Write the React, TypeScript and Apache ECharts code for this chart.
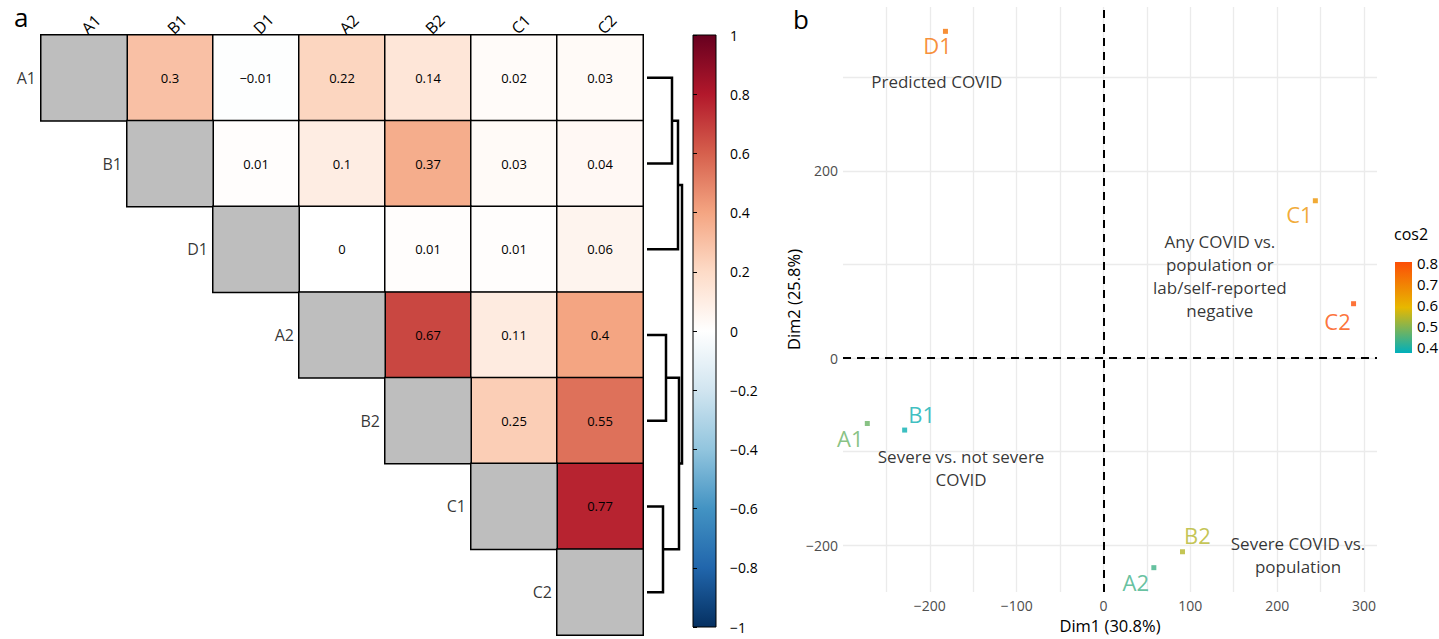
import React, { useEffect, useRef } from 'react';
import * as echarts from 'echarts';

// ---------- Panel a: correlation matrix ----------
const LABELS = ['A1', 'B1', 'D1', 'A2', 'B2', 'C1', 'C2'];
// values to the right of the diagonal, one array per row
const ROW_A1 = [0.3, -0.01, 0.22, 0.14, 0.02, 0.03];
const ROW_B1 = [0.01, 0.1, 0.37, 0.03, 0.04];
const ROW_D1 = [0, 0.01, 0.01, 0.06];
const ROW_A2 = [0.67, 0.11, 0.4];
const ROW_B2 = [0.25, 0.55];
const ROW_C1 = [0.77];
const UPPER_ROWS = [ROW_A1, ROW_B1, ROW_D1, ROW_A2, ROW_B2, ROW_C1];

// dendrogram merges (children: leaf index or merge id), heights in arbitrary units
const DENDRO_MERGES: { left: number | string; right: number | string; height: number }[] = [
  { left: 0, right: 1, height: 25 },
  { left: 'm0', right: 2, height: 31 },
  { left: 3, right: 4, height: 19 },
  { left: 5, right: 6, height: 16 },
  { left: 'm2', right: 'm3', height: 32 },
  { left: 'm1', right: 'm4', height: 35 },
];

const RDBU = ['#053061', '#2166AC', '#4393C3', '#92C5DE', '#D1E5F0', '#FFFFFF', '#FDDBC7', '#F4A582', '#D6604D', '#B2182B', '#67001F'];

// ---------- Panel b: PCA ----------
const PCA_NAMES = ['A1', 'B1', 'D1', 'A2', 'B2', 'C1', 'C2'];
const DIM1 = [-272, -229, -182, 58, 91, 244, 288];
const DIM2 = [-70, -77, 349, -224, -207, 168, 58];
const COS2 = [0.47, 0.38, 0.73, 0.43, 0.54, 0.66, 0.8];
const LABEL_OFFSETS = [[-17, 14], [17, -16], [-8, 14], [-18, 14], [15, -17], [-16, 13], [-16, 17]];

const NOTE_TEXTS = [
  'Predicted COVID',
  'Severe vs. not severe\nCOVID',
  'Any COVID vs.\npopulation or\nlab/self-reported\nnegative',
  'Severe COVID vs.\npopulation',
];
const NOTE_X = [-192, -164, 134, 224];
const NOTE_Y = [295, -117, 88, -210];

const COS2_COLORS = ['#00AFBB', '#E7B800', '#FC4E07'];

const FONT = 'Open Sans';
const minus = (s: string) => s.replace('-', '\u2212');

function buildOption() {
  const corrData: number[][] = [];
  UPPER_ROWS.forEach((row, r) => row.forEach((v, k) => corrData.push([r + 1 + k, r, v])));
  const diagData = LABELS.map((_, i) => [i, i, 1]);

  // dendrogram polylines
  const nodes: Record<string, { y: number; h: number }> = {};
  const getNode = (c: number | string) => (typeof c === 'number' ? { y: c, h: 0 } : nodes[c]);
  const dendroLines = DENDRO_MERGES.map((m, i) => {
    const l = getNode(m.left);
    const r = getNode(m.right);
    nodes['m' + i] = { y: (l.y + r.y) / 2, h: m.height };
    return { coords: [[l.h, l.y], [m.height, l.y], [m.height, r.y], [r.h, r.y]] };
  });

  const pcaData = PCA_NAMES.map((n, i) => ({
    name: n,
    value: [DIM1[i], DIM2[i], COS2[i]],
    label: { offset: LABEL_OFFSETS[i] },
  }));
  const noteData = NOTE_TEXTS.map((t, i) => ({ name: t, value: [NOTE_X[i], NOTE_Y[i]] }));

  const gridLine = { show: true, lineStyle: { color: '#EBEBEB', width: 1.3 }, showMinLine: false, showMaxLine: false };

  return {
    animation: false,
    textStyle: { fontFamily: FONT },
    grid: [
      { left: 41, top: 35, width: 602, height: 600, outerBoundsMode: 'none' },
      { left: 647, top: 35, width: 36, height: 600, outerBoundsMode: 'none' },
      { left: 693, top: 35, width: 23, height: 592, outerBoundsMode: 'none' },
      { left: 843, top: 7, width: 534, height: 585, outerBoundsMode: 'none' },
      { left: 1395, top: 262, width: 17, height: 91, outerBoundsMode: 'none' },
    ],
    visualMap: [
      { type: 'continuous', show: false, seriesIndex: 0, dimension: 2, min: -1, max: 1, inRange: { color: RDBU } },
      { type: 'continuous', show: false, seriesIndex: 1, dimension: 2, min: 0, max: 2, inRange: { color: ['#BEBEBE', '#BEBEBE'] } },
      { type: 'continuous', show: false, seriesIndex: 4, dimension: 2, min: 0.37, max: 0.805, inRange: { color: COS2_COLORS } },
    ],
    xAxis: [
      {
        gridIndex: 0, type: 'category', data: LABELS, position: 'top',
        axisLine: { show: false }, axisTick: { show: false }, splitLine: { show: false },
        axisLabel: { rotate: -45, fontSize: 16, color: '#000', margin: 4 },
      },
      { gridIndex: 1, type: 'value', min: 0, max: 36, show: false },
      { gridIndex: 2, type: 'value', min: 0, max: 1, show: false },
      {
        gridIndex: 3, type: 'value', min: -300, max: 315, minInterval: 50, maxInterval: 50,
        axisLine: { show: false }, axisTick: { show: false }, splitLine: gridLine,
        axisLabel: {
          color: '#4D4D4D', fontSize: 14, margin: 6,
          formatter: (v: number) => (Math.abs(v % 100) < 1e-6 && v >= -200 && v <= 300 ? minus(String(v)) : ''),
        },
        name: 'Dim1 (30.8%)', nameLocation: 'middle', nameGap: 23,
        nameTextStyle: { fontSize: 16.5, color: '#000' },
      },
      { gridIndex: 4, type: 'value', min: 0, max: 1, show: false },
    ],
    yAxis: [
      { gridIndex: 0, type: 'category', data: LABELS, inverse: true, show: false },
      { gridIndex: 1, type: 'value', min: -0.5, max: 6.5, inverse: true, show: false },
      {
        gridIndex: 2, type: 'value', min: -1, max: 1, interval: 0.2, position: 'right',
        axisLine: { show: false }, splitLine: { show: false },
        axisTick: { show: true, length: 4, lineStyle: { color: '#000', width: 1 } },
        axisLabel: { fontSize: 14, color: '#000', margin: 14, formatter: (v: number) => minus(String(Math.round(v * 10) / 10)) },
      },
      {
        gridIndex: 3, type: 'value', min: -250, max: 375, minInterval: 100, maxInterval: 100,
        axisLine: { show: false }, axisTick: { show: false }, splitLine: gridLine,
        axisLabel: {
          color: '#4D4D4D', fontSize: 14, margin: 5,
          formatter: (v: number) => (Math.abs(v % 200) < 1e-6 && v >= -200 && v <= 200 ? minus(String(v)) : ''),
        },
        name: 'Dim2 (25.8%)', nameLocation: 'middle', nameGap: 31, nameRotate: 90,
        nameTextStyle: { fontSize: 16.5, color: '#000' },
      },
      {
        gridIndex: 4, type: 'value', min: 0.37, max: 0.805, minInterval: 0.1, maxInterval: 0.1, position: 'right', z: 10,
        axisLine: { show: false }, splitLine: { show: false },
        axisTick: { show: true, inside: true, length: 3, lineStyle: { color: '#fff', width: 1 } },
        axisLabel: {
          fontSize: 15, color: '#000', margin: 5,
          formatter: (v: number) => {
            const t = Math.round(v * 10);
            return Math.abs(v * 10 - t) < 1e-6 && t >= 4 && t <= 8 ? (t / 10).toFixed(1) : '';
          },
        },
      },
    ],
    series: [
      {
        type: 'heatmap', xAxisIndex: 0, yAxisIndex: 0, data: corrData,
        itemStyle: { borderColor: '#000', borderWidth: 1.5 },
        label: {
          show: true, fontSize: 13, color: '#000',
          formatter: (p: any) => minus(String(p.value[2])),
        },
        emphasis: { disabled: true },
      },
      {
        type: 'heatmap', xAxisIndex: 0, yAxisIndex: 0, data: diagData,
        itemStyle: { borderColor: '#000', borderWidth: 1.5 },
        label: { show: false }, emphasis: { disabled: true },
      },
      {
        type: 'scatter', xAxisIndex: 0, yAxisIndex: 0, symbolSize: 0, silent: true,
        data: LABELS.map((n, i) => ({ name: n, value: [i, i] })),
        label: { show: true, position: 'left', distance: 48, formatter: '{b}', fontSize: 16, color: '#000' },
      },
      {
        type: 'lines', coordinateSystem: 'cartesian2d', xAxisIndex: 1, yAxisIndex: 1, polyline: true,
        silent: true, data: dendroLines, lineStyle: { color: '#000', width: 2.5, opacity: 1 },
      },
      {
        type: 'scatter', xAxisIndex: 3, yAxisIndex: 3, symbol: 'rect', symbolSize: 5, data: pcaData,
        label: { show: true, position: 'inside', formatter: '{b}', fontSize: 22, color: 'inherit' },
        emphasis: { disabled: true },
        markLine: {
          silent: true, symbol: ['none', 'none'], label: { show: false },
          lineStyle: { color: '#000', width: 2, type: [8, 6] },
          data: [{ xAxis: 0 }, { yAxis: 0 }],
        },
      },
      {
        type: 'scatter', xAxisIndex: 3, yAxisIndex: 3, symbolSize: 0, silent: true, data: noteData,
        label: { show: true, position: 'inside', formatter: '{b}', fontSize: 17, lineHeight: 23, color: '#000', align: 'center' },
      },
    ],
    graphic: [
      { type: 'text', left: 14, top: 4, style: { text: 'a', fontSize: 26, fill: '#000', fontFamily: FONT } },
      { type: 'text', left: 793, top: 6, style: { text: 'b', fontSize: 26, fill: '#000', fontFamily: FONT } },
      {
        type: 'rect', shape: { x: 693, y: 35, width: 23, height: 592 },
        style: {
          fill: new echarts.graphic.LinearGradient(0, 0, 0, 1,
            RDBU.slice().reverse().map((c, i) => ({ offset: i / (RDBU.length - 1), color: c }))),
          stroke: '#000', lineWidth: 1,
        },
      },
      {
        type: 'rect', z: -1, shape: { x: 1395, y: 262, width: 17, height: 91 },
        style: {
          fill: new echarts.graphic.LinearGradient(0, 0, 0, 1,
            COS2_COLORS.slice().reverse().map((c, i) => ({ offset: i / (COS2_COLORS.length - 1), color: c }))),
        },
      },
      { type: 'text', left: 1394, top: 226, style: { text: 'cos2', fontSize: 16, fill: '#000', fontFamily: FONT } },
    ],
  };
}

export default function App() {
  const ref = useRef<HTMLDivElement>(null);
  useEffect(() => {
    document.body.style.margin = '0';
    const chart = echarts.init(ref.current!, null, { renderer: 'svg' });
    chart.setOption(buildOption() as any);
    return () => chart.dispose();
  }, []);
  return <div ref={ref} style={{ width: 1439, height: 639 }} />;
}
